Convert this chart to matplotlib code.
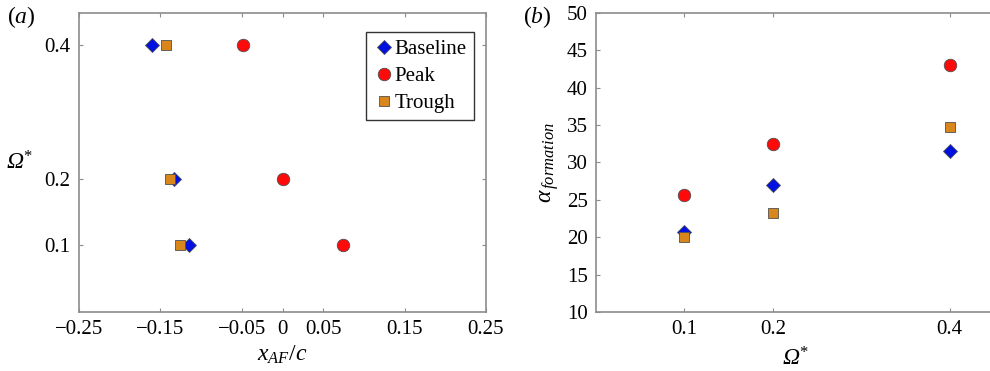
import numpy as np
import matplotlib.pyplot as plt

plt.rcParams['font.family'] = ['Liberation Serif', 'DejaVu Serif']
plt.rcParams['mathtext.fontset'] = 'custom'
plt.rcParams['mathtext.rm'] = 'Liberation Serif'
plt.rcParams['mathtext.it'] = 'Liberation Serif:italic'
plt.rcParams['mathtext.bf'] = 'Liberation Serif:bold'

# panel (a): aerodynamic-force location vs rotation rate
omega_a = [0.1, 0.2, 0.4]
xaf_baseline = [-0.115, -0.133, -0.160]
xaf_peak = [0.074, 0.0, -0.048]
xaf_trough = [-0.126, -0.138, -0.1435]

# panel (b): formation angle vs rotation rate
omega_b = [0.1, 0.2, 0.4]
alpha_baseline = [20.7, 27.0, 31.6]
alpha_peak = [25.6, 32.5, 43.0]
alpha_trough = [20.0, 23.2, 34.8]

blue = '#0010e0'
red = '#ff0a0a'
orange = '#d9861c'
edge = '#505050'
spine_color = '#8c8c8c'

fig = plt.figure(figsize=(9.9, 3.71), dpi=100)
ax1 = fig.add_axes([79 / 990, 1 - 312 / 371, 407 / 990, 299 / 371])
ax2 = fig.add_axes([596 / 990, 1 - 312 / 371, 398 / 990, 299 / 371])

style = dict(linestyle='none', markeredgecolor=edge, markeredgewidth=0.6)

ax1.plot(xaf_baseline, omega_a, marker='D', markersize=7.5, color=blue, label='Baseline', **style)
ax1.plot(xaf_peak, omega_a, marker='o', markersize=9, color=red, label='Peak', **style)
ax1.plot(xaf_trough, omega_a, marker='s', markersize=6.5, color=orange, label='Trough', **style)

ax2.plot(omega_b, alpha_baseline, marker='D', markersize=7.5, color=blue, **style)
ax2.plot(omega_b, alpha_peak, marker='o', markersize=9, color=red, **style)
ax2.plot(omega_b, alpha_trough, marker='s', markersize=6.5, color=orange, **style)

omega_label = 'Ω$^{*}$'

ax1.set_xlim(-0.25, 0.25)
ax1.set_ylim(0.0, 0.448)
ax1.set_xticks([-0.25, -0.15, -0.05, 0, 0.05, 0.15, 0.25])
ax1.set_xticklabels(['\u22120.25', '\u22120.15', '\u22120.05', '0', '0.05', '0.15', '0.25'])
ax1.set_yticks([0.1, 0.2, 0.4])
ax1.set_yticklabels(['0.1', '0.2', '0.4'])
ax1.set_xlabel(r'$x_{AF}/c$', fontsize=17, labelpad=3)
ax1.set_ylabel(omega_label, fontsize=17, rotation=0, style='italic')
ax1.yaxis.set_label_coords(-0.147, 0.46)

ax2.set_xlim(0.0, 0.45)
ax2.set_ylim(10, 50)
ax2.set_xticks([0.1, 0.2, 0.4])
ax2.set_xticklabels(['0.1', '0.2', '0.4'])
ax2.set_yticks(np.arange(10, 51, 5))
ax2.set_xlabel(omega_label, fontsize=17, labelpad=6, style='italic')
ax2.set_ylabel(r'$\alpha_{\,formation}$', fontsize=17, labelpad=4)

for ax in (ax1, ax2):
    for s in ax.spines.values():
        s.set_color(spine_color)
        s.set_linewidth(1.2)
    ax.tick_params(direction='in', top=True, right=True, length=3, width=0.8,
                   color=spine_color, labelsize=15, pad=6)

leg = ax1.legend(loc='upper right', bbox_to_anchor=(0.97, 0.935), fontsize=15,
                 frameon=True, fancybox=False, handletextpad=0.0, handlelength=1.0,
                 borderpad=0.35, labelspacing=0.35, borderaxespad=0)
leg.get_frame().set_edgecolor('black')
leg.get_frame().set_linewidth(1.0)

fig.text(7 / 990, 1 - 17 / 371, r'$(\mathit{a})$', fontsize=17, va='center')
fig.text(523 / 990, 1 - 17 / 371, r'$(\mathit{b})$', fontsize=17, va='center')

fig.savefig('out.png', dpi=100)
